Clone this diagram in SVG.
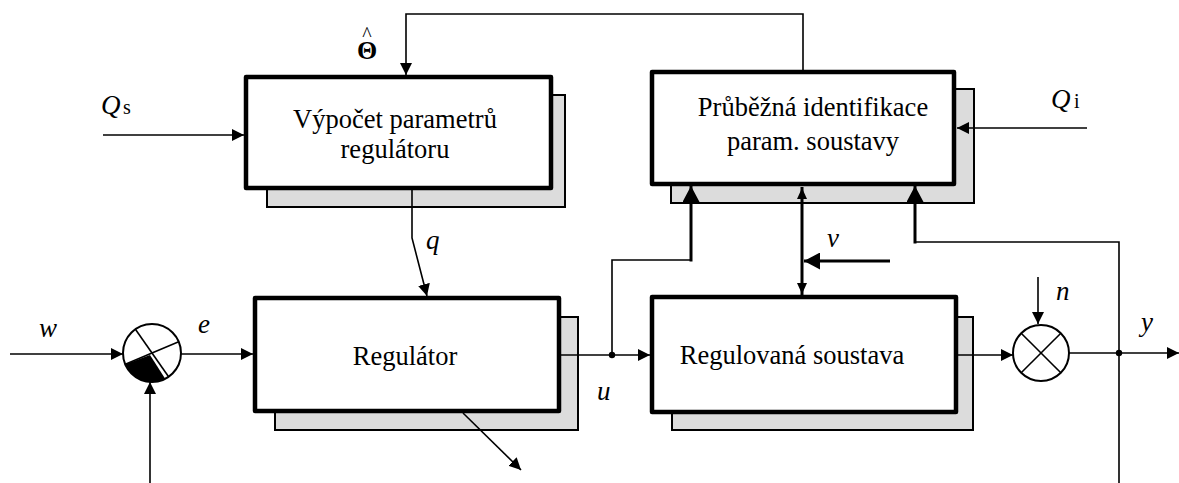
<svg xmlns="http://www.w3.org/2000/svg" width="1179" height="483" viewBox="0 0 1179 483">
<style>
.shadow{fill:#dcdcdc;stroke:#000;stroke-width:2}
.box{fill:#fff;stroke:#000;stroke-width:4.5;stroke-linejoin:round}
.t{font-family:"Liberation Serif","Times New Roman",serif;font-size:26.5px;fill:#000;text-anchor:middle}
.lbl{font-family:"Liberation Serif","Times New Roman",serif;font-size:27px;font-style:italic;fill:#000}
.sub{font-family:"Liberation Serif","Times New Roman",serif;font-size:20px;fill:#000}
.ln{fill:none;stroke:#000;stroke-width:1.6}
.thk{fill:none;stroke:#000;stroke-width:3}
.circ{fill:#fff;stroke:#000;stroke-width:2}
</style>
<defs>
<marker id="arr" markerUnits="userSpaceOnUse" markerWidth="12" markerHeight="12" refX="12" refY="6" orient="auto">
<path d="M0,0 L12,6 L0,12 z" fill="#000"/>
</marker>
<marker id="arrS" markerUnits="userSpaceOnUse" markerWidth="12" markerHeight="12" refX="12" refY="6" orient="auto-start-reverse">
<path d="M0,1 L11,6 L0,11 z" fill="#000"/>
</marker>
<marker id="arrB" markerUnits="userSpaceOnUse" markerWidth="16" markerHeight="17" refX="16" refY="8.5" orient="auto">
<path d="M0,0 L16,8.5 L0,17 z" fill="#000"/>
</marker>
</defs>

<g id="node-vypocet">
<rect class="shadow" x="267" y="95" width="298" height="112"/>
<rect class="box" x="246" y="77" width="305" height="111"/>
<text class="t" x="395" y="128">Výpočet parametrů</text>
<text class="t" x="395" y="158">regulátoru</text>
</g>

<g id="node-identifikace">
<rect class="shadow" x="671" y="89" width="303" height="114"/>
<rect class="box" x="652" y="72" width="302" height="112"/>
<text class="t" x="813" y="116">Průběžná identifikace</text>
<text class="t" x="813" y="150">param. soustavy</text>
</g>

<g id="node-regulator">
<rect class="shadow" x="275" y="317" width="303" height="113"/>
<rect class="box" x="255" y="298" width="304" height="113"/>
<text class="t" x="405" y="365">Regulátor</text>
</g>

<g id="node-soustava">
<rect class="shadow" x="672" y="317" width="301" height="113"/>
<rect class="box" x="652" y="297" width="304" height="115"/>
<text class="t" x="792" y="364">Regulovaná soustava</text>
</g>

<g id="node-sum1">
<circle class="circ" cx="152" cy="353" r="29"/>
<path d="M150,355 L125.3,364.3 A29,29 0 0 0 165.2,378.8 Z" fill="#000"/>
<line class="ln" x1="135.4" y1="329.2" x2="168.6" y2="376.8"/>
<line class="ln" x1="125.3" y1="364.3" x2="178.7" y2="341.7"/>
</g>

<g id="node-sum2">
<circle class="circ" cx="1041" cy="353" r="28"/>
<line class="ln" x1="1021.2" y1="333.2" x2="1060.8" y2="372.8"/>
<line class="ln" x1="1060.8" y1="333.2" x2="1021.2" y2="372.8"/>
</g>

<g id="connectors">
<polyline class="ln" points="803,70 803,14 406,14 406,75" marker-end="url(#arr)"/>
<line class="ln" x1="103" y1="135" x2="244" y2="135" marker-end="url(#arr)"/>
<line class="ln" x1="1087" y1="128" x2="957" y2="128" marker-end="url(#arr)"/>
<polyline class="ln" points="412,190 412,238 427,296" marker-end="url(#arr)"/>
<line class="ln" x1="10" y1="354" x2="123" y2="354" marker-end="url(#arr)"/>
<line class="ln" x1="181" y1="354" x2="253" y2="354" marker-end="url(#arr)"/>
<line class="ln" x1="150" y1="483" x2="150" y2="382" marker-end="url(#arr)"/>
<line class="ln" x1="561" y1="355" x2="650" y2="355" marker-end="url(#arr)"/>
<polyline class="ln" points="612,355 612,260 691,260"/>
<line class="thk" x1="691" y1="261.5" x2="691" y2="186" marker-end="url(#arrB)"/>
<line class="thk" x1="802" y1="187" x2="802" y2="295" marker-start="url(#arrS)" marker-end="url(#arrS)"/>
<line class="thk" x1="890" y1="261" x2="804" y2="261" marker-end="url(#arrB)"/>
<line class="ln" x1="958" y1="355" x2="1013" y2="355" marker-end="url(#arr)"/>
<line class="ln" x1="1038" y1="277" x2="1038" y2="324" marker-end="url(#arr)"/>
<line class="ln" x1="1069" y1="353" x2="1179" y2="353" marker-end="url(#arr)"/>
<polyline class="ln" points="1119,483 1119,242 915,242"/>
<line class="thk" x1="915" y1="243.5" x2="915" y2="186" marker-end="url(#arrB)"/>
<line class="ln" x1="463" y1="413" x2="521" y2="470" marker-end="url(#arr)"/>
<circle cx="612" cy="355" r="3.2" fill="#000"/>
<circle cx="1119" cy="353" r="3.2" fill="#000"/>
</g>

<g id="labels">
<text class="lbl" x="101" y="114">Q</text><text class="sub" x="123" y="114">s</text>
<text class="lbl" x="1051" y="108">Q</text><text class="sub" x="1074" y="108">i</text>
<text font-family="Liberation Serif, serif" text-anchor="middle"><tspan x="367" y="59" font-size="26" font-weight="bold">Θ</tspan><tspan x="367" y="41" font-size="20">^</tspan></text>
<text class="lbl" x="426" y="249">q</text>
<text class="lbl" x="39" y="337">w</text>
<text class="lbl" x="198" y="333">e</text>
<text class="lbl" x="597" y="400">u</text>
<text class="lbl" x="827" y="247">v</text>
<text class="lbl" x="1056" y="300">n</text>
<text class="lbl" x="1141" y="331">y</text>
</g>
</svg>
